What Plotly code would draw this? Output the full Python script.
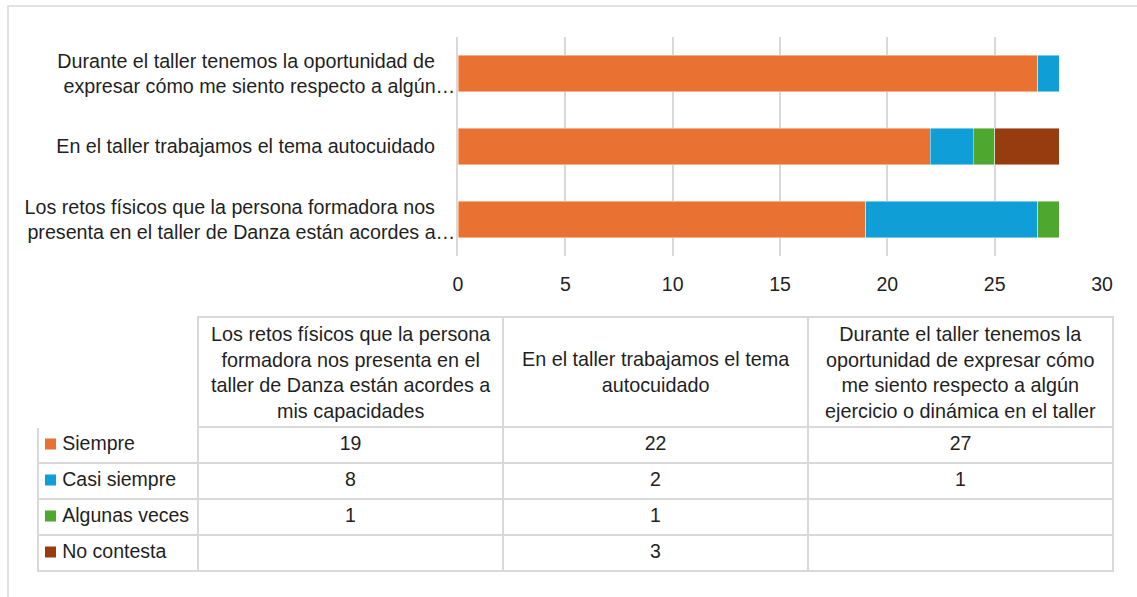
import plotly.graph_objects as go

# ---- data -------------------------------------------------------------
categories = [
    "Los retos físicos que la persona formadora nos presenta en el taller de Danza están acordes a mis capacidades",
    "En el taller trabajamos el tema autocuidado",
    "Durante el taller tenemos la oportunidad de expresar cómo me siento respecto a algún ejercicio o dinámica en el taller",
]
axis_labels = [
    "Los retos físicos que la persona formadora nos&nbsp;&nbsp;&nbsp;&#8201;<br>presenta en el taller de Danza están acordes a…",
    "En el taller trabajamos el tema autocuidado&nbsp;&nbsp;&nbsp;&#8201;",
    "Durante el taller tenemos la oportunidad de&nbsp;&nbsp;&nbsp;&#8201;<br>expresar cómo me siento respecto a algún…",
]
table_headers = [
    "Los retos físicos que la persona<br>formadora nos presenta en el<br>taller de Danza están acordes a<br>mis capacidades",
    "En el taller trabajamos el tema<br>autocuidado",
    "Durante el taller tenemos la<br>oportunidad de expresar cómo<br>me siento respecto a algún<br>ejercicio o dinámica en el taller",
]
series_names = ["Siempre", "Casi siempre", "Algunas veces", "No contesta"]
siempre = [19, 22, 27]
casi_siempre = [8, 2, 1]
algunas_veces = [1, 1, None]
no_contesta = [None, 3, None]
x_ticks = [0, 5, 10, 15, 20, 25, 30]

series_values = [siempre, casi_siempre, algunas_veces, no_contesta]
colors = ["#E97132", "#0F9ED5", "#4EA72E", "#973C0F"]

# ---- geometry helpers (pixels -> paper fractions) --------------------------
W, H = 1137, 597
def px_x(x):
    return x / W
def px_y(y):
    return 1 - y / H

FONT = "Liberation Sans, Arial, sans-serif"
TEXT = "#1f1f1f"
GRID = "#d9d9d9"

fig = go.Figure()

for name, vals, col in zip(series_names, series_values, colors):
    fig.add_trace(go.Bar(
        y=categories, x=vals, name=name, orientation="h",
        marker=dict(color=col, line=dict(color="rgba(255,255,255,0.55)", width=0.8)),
        hoverinfo="x+name",
    ))

# ---- data table below the chart ----------------------------------------
def fmt(v):
    return "" if v is None else str(v)

NBSP = "\u00a0"
# non-breaking spaces keep each series name on one line
first_col = [NBSP * 3 + n.replace(" ", NBSP) for n in series_names]
table_columns = [first_col] + [
    [fmt(series_values[s][i]) for s in range(len(series_names))]
    for i in range(len(categories))
]

TBL_LEFT, TBL_RIGHT, TBL_TOP, TBL_BOTTOM = 38, 1113, 317, 571
col_widths = [160, 305, 305, 305]
HEADER_H = 110
ROW_H = 36

fig.add_trace(go.Table(
    # a few spare pixels below the last row so its bottom border is not clipped
    domain=dict(x=[px_x(TBL_LEFT), px_x(TBL_RIGHT)], y=[px_y(TBL_BOTTOM + 4), px_y(TBL_TOP)]),
    columnwidth=col_widths,
    header=dict(
        values=["", "", "", ""],
        fill_color="white",
        line=dict(color=["white", GRID, GRID, GRID], width=2),
        height=HEADER_H,
    ),
    cells=dict(
        values=table_columns,
        fill_color="white",
        line=dict(color=GRID, width=2),
        align=["left", "center", "center", "center"],
        font=dict(family=FONT, size=19.5, color=TEXT),
        height=ROW_H,
    ),
))

# multi-line header captions, centred in each header cell
annotations = []
x_edge = TBL_LEFT + col_widths[0]
for text, w in zip(table_headers, col_widths[1:]):
    annotations.append(dict(
        text=text, xref="paper", yref="paper",
        x=px_x(x_edge + w / 2), y=px_y(TBL_TOP + HEADER_H / 2),
        xanchor="center", yanchor="middle", align="center",
        showarrow=False, font=dict(family=FONT, size=19.8, color=TEXT),
    ))
    x_edge += w

# outer frame and the legend keys in the first table column
shapes = [
    dict(type="rect", xref="paper", yref="paper",
         x0=px_x(8), x1=1.02, y0=-0.05, y1=px_y(6),
         line=dict(color=GRID, width=1.5), fillcolor="rgba(0,0,0,0)",
         layer="below"),
]
for k, col in enumerate(colors):
    yc = TBL_TOP + HEADER_H + ROW_H * k + ROW_H / 2
    shapes.append(dict(
        type="rect", xref="paper", yref="paper",
        x0=px_x(45), x1=px_x(56), y0=px_y(yc + 4.5), y1=px_y(yc - 6.5),
        line=dict(width=0), fillcolor=col, layer="above",
    ))

fig.update_layout(
    width=W, height=H, autosize=False,
    margin=dict(l=0, r=0, t=0, b=0, autoexpand=False),
    paper_bgcolor="white", plot_bgcolor="white",
    barmode="stack", bargap=0.5,
    showlegend=False,
    font=dict(family=FONT, size=19.5, color=TEXT),
    xaxis=dict(
        domain=[px_x(458), px_x(1102)],
        range=[0, 30], tickvals=x_ticks,
        showgrid=True, gridcolor=GRID, gridwidth=1.5,
        zeroline=False, showline=False, ticks="",
        ticklabelstandoff=14, automargin=False,
        tickfont=dict(family=FONT, size=19.5, color=TEXT),
        fixedrange=True,
    ),
    yaxis=dict(
        domain=[px_y(256), px_y(37)],
        type="category", categoryorder="array", categoryarray=categories,
        tickvals=categories, ticktext=axis_labels,
        showgrid=False, showline=True, linecolor=GRID, linewidth=1.5,
        ticks="", ticklabelstandoff=-3, automargin=False,
        tickfont=dict(family=FONT, size=19.7, color=TEXT),
        fixedrange=True,
    ),
    annotations=annotations,
    shapes=shapes,
)

page_style = (
    "document.documentElement.style.overflow='hidden';"
    "document.body.style.margin='0';"
    "document.body.style.overflow='hidden';"
)

fig.write_html("out.html", config={"responsive": False, "displayModeBar": False},
               post_script=page_style)
